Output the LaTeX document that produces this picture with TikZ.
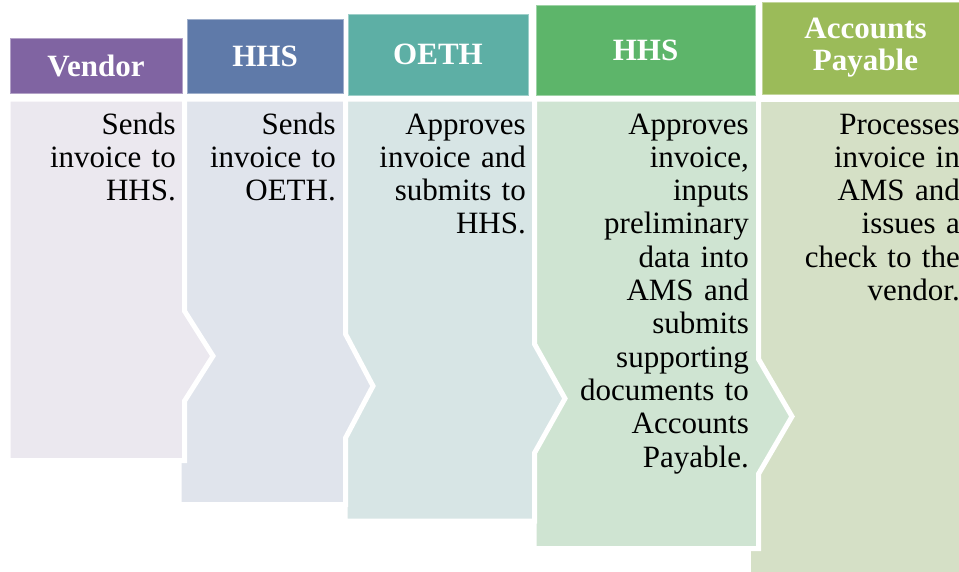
\documentclass[tikz,border=0pt]{standalone}
\usepackage{fontspec}
\setmainfont{Liberation Serif}
\usetikzlibrary{positioning}

\begin{document}
\begin{tikzpicture}[x=1pt, y=-1pt,
  hdr/.style={inner sep=0pt, text=white, align=center, line width=1pt,
    font={\fontsize{31}{32}\selectfont\bfseries}},
  txt/.style={inner sep=0pt, anchor=base east, text width=200pt, align=right,
    font={\fontsize{31}{33.3}\selectfont}},
  sheet/.style={draw=white, line width=5pt, line join=miter}]
  \definecolor{head 1}{HTML}{8064A2}
  \definecolor{head 2}{HTML}{5F7AA9}
  \definecolor{head 3}{HTML}{5DAFA5}
  \definecolor{head 4}{HTML}{5DB56A}
  \definecolor{head 5}{HTML}{9BBB59}
  \definecolor{body 1}{HTML}{EBE8EF}
  \definecolor{body 2}{HTML}{E0E4EC}
  \definecolor{body 3}{HTML}{D7E5E5}
  \definecolor{body 4}{HTML}{CFE4D2}
  \definecolor{body 5}{HTML}{D5E0C6}
  \useasboundingbox (0,0) rectangle (959,571);

  % bodies, right to left so each point lies on the next one
  \draw[sheet, fill=body 5] (748,99) rectangle (990,600);
  \foreach \n/\l/\r/\b/\t/\p/\tip in {4/534/758.5/548.5/359/474/792,
                                      3/345/534.5/521/344/453/565,
                                      2/179/345.5/504.5/334/438/373,
                                      1/8/184.5/460.5/311/401/213} {
    \draw[sheet, fill=body \n] (\l,99) -- (\r,99) -- (\r,\t)
      -- (\tip,{(\t+\p)/2}) -- (\r,\p) -- (\r,\b) -- (\l,\b) -- cycle;
  }

  % headers
  \node[hdr, fill=head 1, draw=head 1!60!white, minimum width=172pt, minimum height=55pt] (vendor) at (96,65.5) {Vendor};
  \node[hdr, fill=head 2, draw=head 2!60!white, minimum width=156pt, minimum height=74pt] (hhs) at (265,56) {HHS};
  \node[hdr, fill=head 3, draw=head 3!60!white, minimum width=180pt, minimum height=81pt] (oeth) at (438,54.5) {OETH};
  \node[hdr, fill=head 4, draw=head 4!60!white, minimum width=219pt, minimum height=90pt] (hhs2) at (645.5,50) {HHS};
  \node[hdr, fill=head 5, draw=head 5!60!white, minimum width=207pt, minimum height=92pt] (payable) at (865.5,48) {Accounts\\Payable};

  % steps
  \node[txt] (vendor text) at (176,134) {Sends\\invoice to\\HHS.};
  \node[txt] (hhs text) at (336,134) {Sends\\invoice to\\OETH.};
  \node[txt] (oeth text) at (526,134) {Approves\\invoice and\\submits to\\HHS.};
  \node[txt] (hhs2 text) at (749,134) {Approves\\invoice,\\inputs\\preliminary\\data into\\AMS and\\submits\\supporting\\documents to\\Accounts\\Payable.};
  \node[txt] (payable text) at (960,134) {Processes\\invoice in\\AMS and\\issues a\\check to the\\vendor.};
\end{tikzpicture}
\end{document}
